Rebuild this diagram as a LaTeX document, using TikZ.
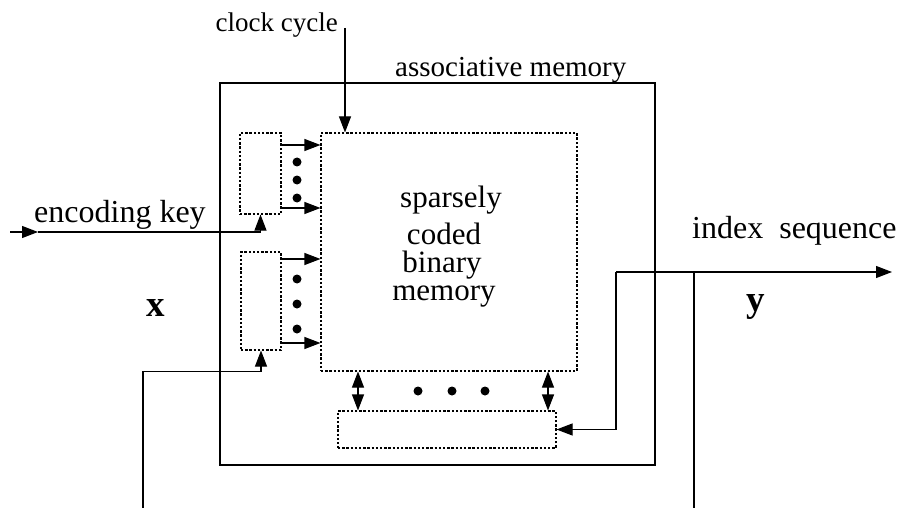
\documentclass[tikz,border=0pt]{standalone}
\usepackage{fontspec}
\setmainfont{Liberation Serif}
\usetikzlibrary{arrows.meta}

\tikzset{
	>={Triangle[length=16pt, width=12pt]},
	wire/.style={line width=1.1pt},
	frame/.style={draw, line width=2.8pt, inner sep=0pt},
	dotbox/.style={draw, line width=1.1pt, dash pattern=on 2.4pt off 1.8pt, inner sep=0pt},
	dotmark/.style={fill, circle, inner sep=0pt, minimum size=9pt}
}

\begin{document}
\begin{tikzpicture}[x=1pt, y=-1pt]
	\useasboundingbox (0, 0) rectangle (905, 508);

	\node[frame, minimum width=435pt, minimum height=382pt] (am) at (437.5, 274) {};
	\node[dotbox, minimum width=256pt, minimum height=238pt] (mem) at (449, 252) {};
	\node[dotbox, minimum width=41pt, minimum height=81pt] (reg1) at (260.5, 173.5) {};
	\node[dotbox, minimum width=40pt, minimum height=98pt] (reg2) at (261, 301) {};
	\node[dotbox, minimum width=218pt, minimum height=37pt] (out) at (447, 429.5) {};

	% labels
	\node[anchor=base east, font=\fontsize{27}{30}\selectfont, inner sep=0pt] (clklab) at (338, 32) {clock cycle};
	\node[anchor=base west, font=\fontsize{29}{32}\selectfont, inner sep=0pt] (amlab) at (395, 77) {associative memory};
	\node[anchor=base west, font=\fontsize{32}{36}\selectfont, inner sep=0pt] (eklab) at (34, 222) {encoding key};
	\node[anchor=base west, font=\fontsize{32}{36}\selectfont, inner sep=0pt] (islab) at (692, 238) {index~~sequence};
	\node[anchor=base, font=\fontsize{37}{40}\selectfont\bfseries, inner sep=0pt] (xlab) at (156, 316) {x};
	\node[anchor=base, font=\fontsize{37}{40}\selectfont\bfseries, inner sep=0pt] (ylab) at (756, 311) {y};
	\begin{scope}[every node/.style={anchor=base, font=\fontsize{31}{34}\selectfont, inner sep=0pt}]
		\node (t1) at (451, 207) {sparsely};
		\node (t2) at (444, 244) {coded};
		\node (t3) at (442, 272) {binary};
		\node (t4) at (444, 300) {memory};
	\end{scope}

	% inputs
	\coordinate (clk) at (345, 28);
	\draw[wire, ->] (clk) -- (clk |- mem.north);
	\coordinate (ekin) at (10, 232);
	\coordinate (ek) at (38, 232);
	\draw[wire, ->] (ekin) -- (ek);
	\draw[wire, ->] (ek) -| (reg1.south);
	\coordinate (xin) at (143, 508);
	\draw[wire, ->] (xin) |- (mem.south -| reg2.south) -- (reg2.south);

	\draw[wire, ->] (reg1.east |- 0, 145) -- (mem.west |- 0, 145);
	\draw[wire, ->] (reg1.east |- 0, 208) -- (mem.west |- 0, 208);
	\draw[wire, ->] (reg2.east |- 0, 259) -- (mem.west |- 0, 259);
	\draw[wire, ->] (reg2.east |- 0, 343) -- (mem.west |- 0, 343);
	\foreach \y in {162, 180, 198, 279, 304, 329}
		\node[dotmark] at (297, \y) {};

	% memory <-> output register
	\draw[wire, <->] (mem.south -| 358, 0) -- (out.north -| 358, 0);
	\draw[wire, <->] (mem.south -| 548, 0) -- (out.north -| 548, 0);
	\foreach \x in {418, 452, 485}
		\node[dotmark] at (\x, 391) {};

	% output
	\coordinate (tap) at (616, 272);
	\coordinate (yend) at (892, 272);
	\coordinate (ybot) at (694, 508);
	\draw[wire, ->] (tap) -- (yend);
	\draw[wire, ->] (tap) |- (out.east);
	\draw[wire] (ybot) -- (ybot |- tap);
\end{tikzpicture}
\end{document}
